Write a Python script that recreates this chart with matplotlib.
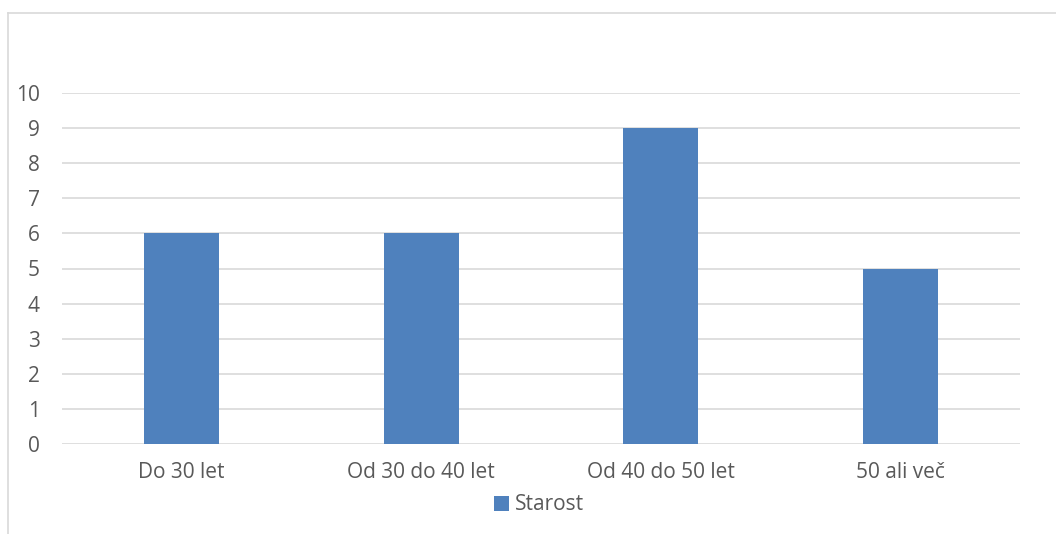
import matplotlib
matplotlib.use("Agg")
import matplotlib.pyplot as plt
from matplotlib.lines import Line2D

categories = ["Do 30 let", "Od 30 do 40 let", "Od 40 do 50 let", "50 ali več"]
values = [6, 6, 9, 5]
series_name = "Starost"
y_ticks = list(range(0, 11))

bar_color = "#4F81BD"
grid_color = "#D9D9D9"
text_color = "#595959"

plt.rcParams["font.family"] = ["Open Sans", "DejaVu Sans"]

fig = plt.figure(figsize=(10.56, 5.34), dpi=100)
ax = fig.add_axes([62 / 1056, 1 - 444 / 534, (1020 - 62) / 1056, (444 - 93) / 534])

# chart frame (cut off on the right and bottom)
fig.add_artist(Line2D([7.5 / 1056, 1.0], [1 - 12.5 / 534, 1 - 12.5 / 534],
                      color=grid_color, lw=1.2, transform=fig.transFigure))
fig.add_artist(Line2D([7.5 / 1056, 7.5 / 1056], [0.0, 1 - 12.5 / 534],
                      color=grid_color, lw=1.2, transform=fig.transFigure))

x = range(len(categories))
ax.bar(x, values, width=0.313, color=bar_color, zorder=3, label=series_name)

ax.set_xlim(-0.5, len(categories) - 0.5)
ax.set_ylim(0, 10)
ax.set_yticks(y_ticks)
ax.set_xticks(list(x))
ax.set_xticklabels(categories)
ax.yaxis.grid(True, color=grid_color, lw=1.2, zorder=0)
ax.set_axisbelow(True)

for s in ax.spines.values():
    s.set_visible(False)
ax.tick_params(axis="both", length=0, labelsize=15, colors=text_color)
ax.tick_params(axis="x", pad=13)
ax.tick_params(axis="y", pad=16)

leg = fig.legend(loc="center", bbox_to_anchor=(539 / 1056, 1 - 505 / 534),
                 frameon=False, fontsize=15, handlelength=0.7, handleheight=0.7,
                 handletextpad=0.3, labelcolor=text_color)

fig.savefig("out.png", dpi=100)
